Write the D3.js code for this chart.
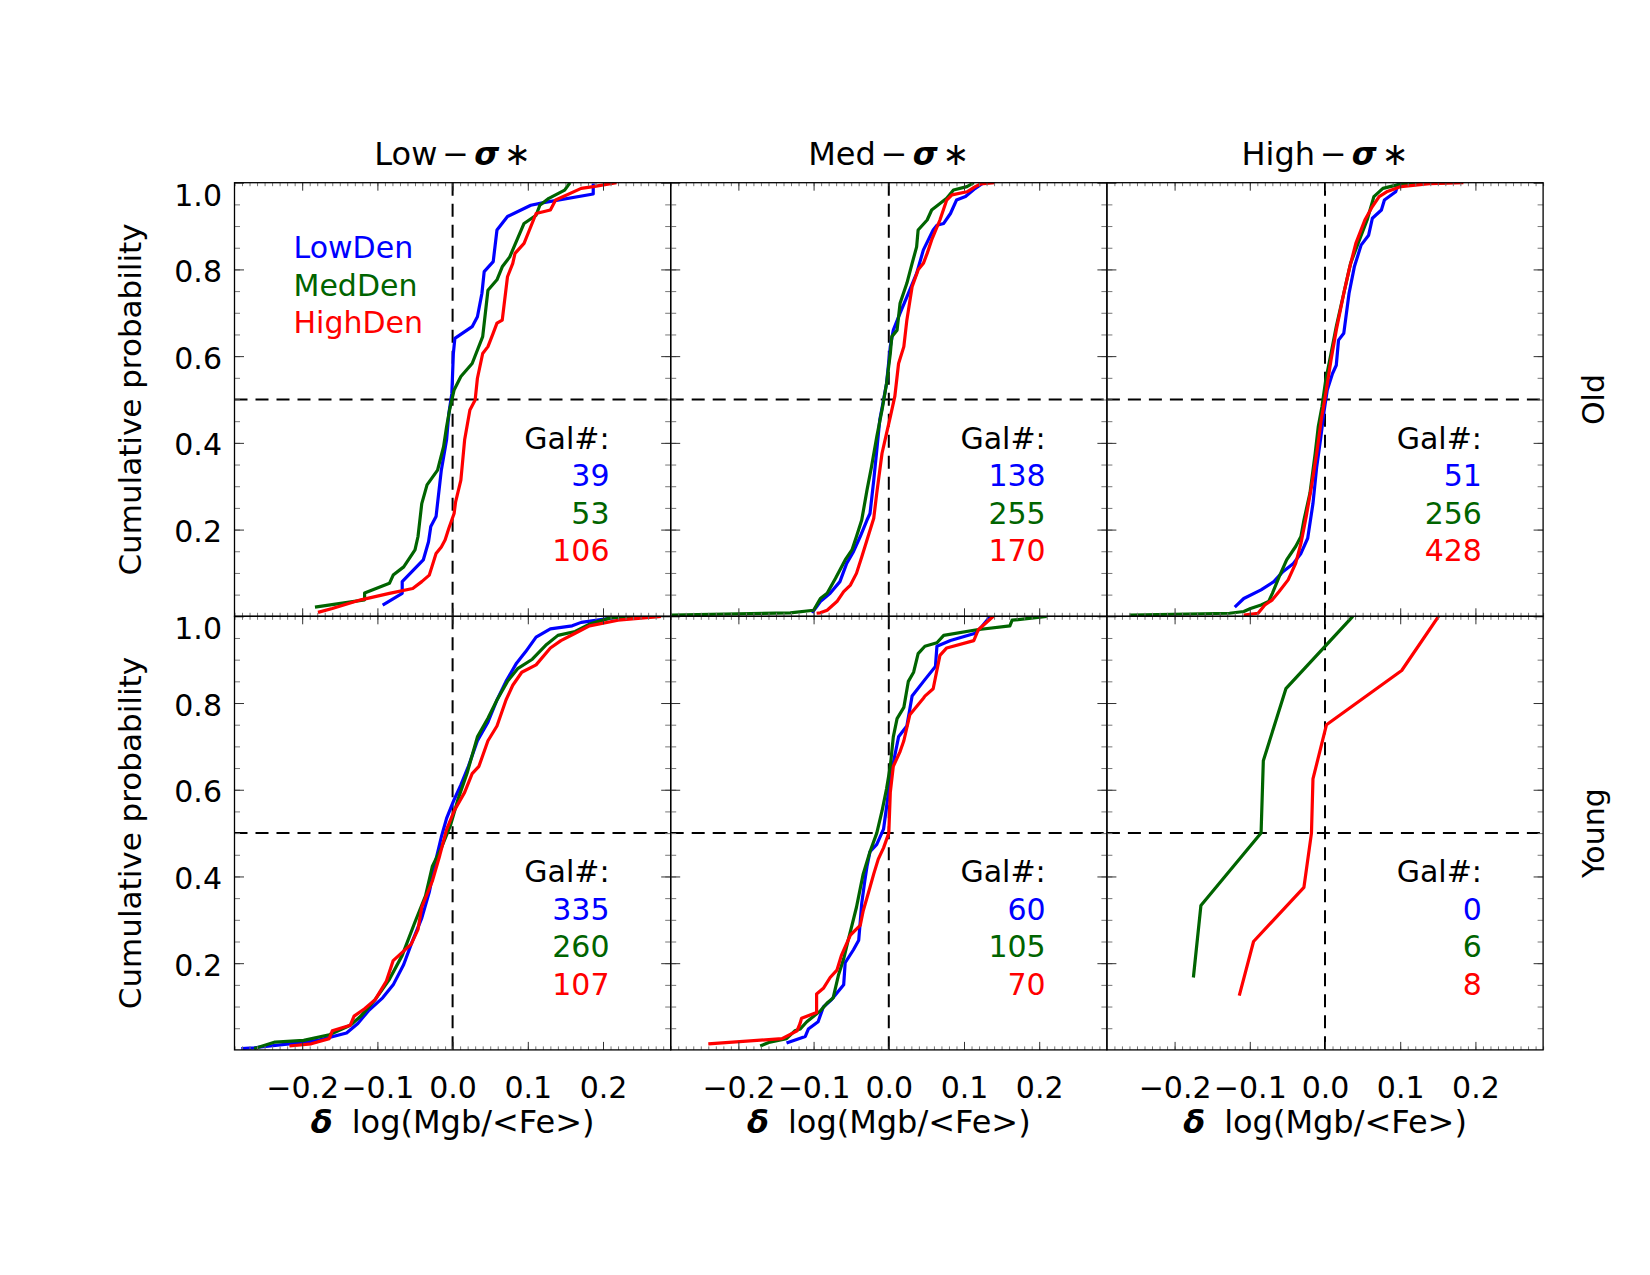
<!DOCTYPE html>
<html>
<head>
<meta charset="utf-8">
<script src="https://cdn.jsdelivr.net/npm/d3@7"></script>
<style>
  body { margin: 0; background: #fff; }
  text { font-family: "DejaVu Sans", sans-serif; }
</style>
</head>
<body>
<div id="chart"></div>
<script>
// Panel / series labels
var colNames = ["Low", "Med", "High"];
var rowNames = ["Old", "Young"];
var densNames = ["LowDen", "MedDen", "HighDen"];
var densColors = ["#0000ff", "#006400", "#ff0000"];

// Galaxy counts per panel [LowDen, MedDen, HighDen]
var galOld = [[39, 53, 106], [138, 255, 170], [51, 256, 428]];
var galYoung = [[335, 260, 107], [60, 105, 70], [0, 6, 8]];

// Tick values
var xTickVals = [-0.2, -0.1, 0.0, 0.1, 0.2];
var yTickVals = [0.2, 0.4, 0.6, 0.8, 1.0];

// Cumulative curves: [delta log(Mgb/<Fe>), cumulative probability]
var oldLowLD = [[-0.093,0.026],[-0.067,0.053],[-0.067,0.080],[-0.039,0.130],[-0.032,0.172],[-0.029,0.207],[-0.022,0.230],[-0.015,0.337],[-0.008,0.407],[-0.005,0.468],[-0.001,0.514],[0.001,0.606],[0.003,0.641],[0.026,0.668],[0.033,0.691],[0.039,0.745],[0.042,0.795],[0.054,0.818],[0.059,0.891],[0.073,0.922],[0.104,0.948],[0.121,0.954],[0.187,0.974],[0.187,0.998]];
var oldLowMD = [[-0.183,0.021],[-0.117,0.038],[-0.117,0.054],[-0.084,0.076],[-0.079,0.095],[-0.065,0.114],[-0.050,0.153],[-0.046,0.184],[-0.041,0.260],[-0.034,0.303],[-0.020,0.337],[-0.012,0.391],[-0.008,0.437],[-0.004,0.476],[0.002,0.522],[0.011,0.553],[0.026,0.583],[0.040,0.645],[0.047,0.752],[0.059,0.776],[0.066,0.806],[0.076,0.829],[0.095,0.906],[0.111,0.925],[0.116,0.948],[0.128,0.964],[0.149,0.983],[0.156,1.0]];
var oldLowHD = [[-0.179,0.009],[-0.160,0.018],[-0.122,0.038],[-0.084,0.053],[-0.053,0.064],[-0.041,0.080],[-0.031,0.095],[-0.022,0.145],[-0.015,0.160],[-0.010,0.176],[-0.005,0.203],[0.002,0.237],[0.004,0.264],[0.011,0.314],[0.016,0.407],[0.023,0.476],[0.030,0.499],[0.033,0.549],[0.040,0.606],[0.047,0.622],[0.054,0.653],[0.059,0.676],[0.066,0.683],[0.073,0.783],[0.080,0.814],[0.083,0.837],[0.095,0.860],[0.111,0.929],[0.130,0.937],[0.137,0.960],[0.171,0.987],[0.187,0.991],[0.218,1.0]];

var oldMedLD = [[-0.102,0.008],[-0.096,0.022],[-0.091,0.034],[-0.078,0.053],[-0.065,0.080],[-0.056,0.122],[-0.047,0.149],[-0.038,0.184],[-0.029,0.222],[-0.025,0.237],[-0.020,0.314],[-0.016,0.383],[-0.012,0.453],[-0.007,0.499],[-0.003,0.537],[0.002,0.622],[0.006,0.660],[0.015,0.699],[0.026,0.745],[0.037,0.791],[0.046,0.845],[0.059,0.891],[0.064,0.902],[0.073,0.906],[0.082,0.929],[0.090,0.960],[0.102,0.968],[0.115,0.987],[0.126,1.0]];
var oldMedMD = [[-0.289,0.003],[-0.131,0.008],[-0.100,0.014],[-0.091,0.041],[-0.082,0.053],[-0.071,0.087],[-0.058,0.130],[-0.049,0.153],[-0.043,0.184],[-0.036,0.222],[-0.029,0.291],[-0.023,0.345],[-0.016,0.414],[-0.009,0.476],[-0.003,0.537],[0.002,0.606],[0.004,0.645],[0.011,0.660],[0.015,0.722],[0.024,0.768],[0.031,0.814],[0.037,0.852],[0.039,0.891],[0.051,0.914],[0.057,0.937],[0.077,0.964],[0.086,0.983],[0.104,0.991],[0.113,1.0]];
var oldMedHD = [[-0.096,0.007],[-0.091,0.008],[-0.082,0.014],[-0.069,0.034],[-0.060,0.057],[-0.051,0.072],[-0.043,0.099],[-0.036,0.137],[-0.029,0.176],[-0.020,0.226],[-0.016,0.284],[-0.009,0.376],[-0.003,0.422],[0.002,0.460],[0.008,0.507],[0.013,0.583],[0.020,0.622],[0.024,0.683],[0.031,0.760],[0.039,0.799],[0.046,0.814],[0.051,0.837],[0.057,0.868],[0.068,0.914],[0.077,0.960],[0.084,0.972],[0.104,0.979],[0.115,0.991],[0.122,0.997],[0.141,1.0]];

var oldHighLD = [[-0.120,0.021],[-0.108,0.041],[-0.085,0.061],[-0.068,0.080],[-0.056,0.103],[-0.042,0.122],[-0.032,0.145],[-0.023,0.180],[-0.016,0.260],[-0.011,0.345],[-0.006,0.407],[-0.001,0.476],[0.003,0.522],[0.010,0.560],[0.015,0.579],[0.018,0.637],[0.025,0.653],[0.032,0.745],[0.039,0.806],[0.048,0.856],[0.058,0.879],[0.063,0.918],[0.075,0.937],[0.079,0.960],[0.094,0.979],[0.098,1.0]];
var oldHighMD = [[-0.260,0.003],[-0.127,0.007],[-0.108,0.011],[-0.099,0.018],[-0.085,0.026],[-0.075,0.034],[-0.070,0.053],[-0.061,0.091],[-0.051,0.130],[-0.039,0.161],[-0.032,0.184],[-0.028,0.222],[-0.020,0.284],[-0.013,0.376],[-0.009,0.437],[-0.004,0.484],[0.001,0.545],[0.008,0.606],[0.015,0.668],[0.025,0.745],[0.034,0.814],[0.044,0.860],[0.056,0.914],[0.065,0.968],[0.077,0.987],[0.096,0.995],[0.115,0.998],[0.162,1.0]];
var oldHighHD = [[-0.108,0.003],[-0.089,0.007],[-0.080,0.026],[-0.070,0.038],[-0.061,0.057],[-0.049,0.084],[-0.039,0.122],[-0.032,0.168],[-0.025,0.230],[-0.018,0.299],[-0.011,0.376],[-0.005,0.453],[0.001,0.514],[0.008,0.591],[0.015,0.660],[0.025,0.745],[0.032,0.799],[0.041,0.860],[0.053,0.914],[0.063,0.945],[0.072,0.968],[0.082,0.979],[0.101,0.991],[0.139,0.998],[0.184,1.0]];

var youngLowLD = [[-0.281,0.003],[-0.264,0.005],[-0.217,0.014],[-0.179,0.022],[-0.141,0.039],[-0.126,0.061],[-0.112,0.090],[-0.093,0.120],[-0.079,0.150],[-0.065,0.197],[-0.055,0.244],[-0.041,0.304],[-0.031,0.364],[-0.022,0.440],[-0.015,0.491],[-0.008,0.534],[0.002,0.577],[0.011,0.611],[0.021,0.654],[0.033,0.713],[0.047,0.756],[0.059,0.807],[0.071,0.850],[0.085,0.892],[0.097,0.918],[0.111,0.952],[0.130,0.971],[0.159,0.978],[0.171,0.986],[0.216,0.997],[0.244,1.0]];
var youngLowMD = [[-0.264,0.003],[-0.236,0.018],[-0.198,0.022],[-0.164,0.035],[-0.136,0.057],[-0.122,0.078],[-0.103,0.116],[-0.084,0.163],[-0.067,0.218],[-0.050,0.295],[-0.036,0.355],[-0.027,0.423],[-0.015,0.466],[-0.003,0.517],[0.007,0.577],[0.019,0.637],[0.033,0.722],[0.047,0.765],[0.059,0.807],[0.073,0.850],[0.087,0.880],[0.106,0.901],[0.125,0.935],[0.140,0.956],[0.163,0.965],[0.182,0.982],[0.211,0.997],[0.277,1.0]];
var youngLowHD = [[-0.217,0.009],[-0.188,0.014],[-0.164,0.026],[-0.160,0.044],[-0.136,0.057],[-0.131,0.078],[-0.117,0.095],[-0.103,0.116],[-0.088,0.159],[-0.079,0.206],[-0.055,0.244],[-0.046,0.278],[-0.041,0.329],[-0.027,0.389],[-0.017,0.449],[-0.008,0.508],[0.002,0.551],[0.016,0.594],[0.026,0.637],[0.035,0.654],[0.047,0.713],[0.059,0.747],[0.071,0.807],[0.080,0.841],[0.092,0.871],[0.111,0.888],[0.130,0.927],[0.144,0.944],[0.163,0.961],[0.182,0.978],[0.220,0.991],[0.277,1.0]];

var youngMedLD = [[-0.136,0.016],[-0.111,0.031],[-0.107,0.048],[-0.094,0.065],[-0.087,0.099],[-0.076,0.116],[-0.060,0.150],[-0.058,0.201],[-0.047,0.231],[-0.040,0.253],[-0.038,0.295],[-0.036,0.338],[-0.032,0.389],[-0.029,0.423],[-0.025,0.457],[-0.016,0.474],[-0.007,0.509],[-0.003,0.560],[0.002,0.628],[0.008,0.679],[0.013,0.722],[0.024,0.747],[0.031,0.816],[0.048,0.854],[0.062,0.884],[0.064,0.931],[0.082,0.944],[0.115,0.961],[0.122,0.973],[0.135,1.0]];
var youngMedMD = [[-0.171,0.009],[-0.158,0.018],[-0.136,0.026],[-0.125,0.044],[-0.118,0.048],[-0.109,0.065],[-0.091,0.090],[-0.082,0.108],[-0.074,0.120],[-0.067,0.172],[-0.060,0.210],[-0.054,0.253],[-0.049,0.287],[-0.043,0.329],[-0.038,0.372],[-0.034,0.406],[-0.025,0.457],[-0.016,0.500],[-0.009,0.551],[-0.003,0.602],[0.002,0.654],[0.006,0.722],[0.011,0.764],[0.020,0.790],[0.026,0.850],[0.033,0.871],[0.039,0.914],[0.048,0.931],[0.064,0.939],[0.073,0.956],[0.117,0.969],[0.161,0.978],[0.164,0.991],[0.210,1.0]];
var youngMedHD = [[-0.240,0.014],[-0.142,0.026],[-0.122,0.044],[-0.118,0.061],[-0.116,0.073],[-0.096,0.086],[-0.096,0.129],[-0.087,0.142],[-0.078,0.167],[-0.069,0.184],[-0.063,0.218],[-0.051,0.265],[-0.038,0.287],[-0.034,0.321],[-0.027,0.363],[-0.020,0.406],[-0.014,0.440],[-0.007,0.466],[0.000,0.500],[0.002,0.594],[0.006,0.654],[0.015,0.688],[0.020,0.713],[0.028,0.773],[0.046,0.811],[0.048,0.816],[0.059,0.833],[0.068,0.910],[0.077,0.927],[0.113,0.944],[0.119,0.969],[0.139,1.0]];

var youngHighLD = [];
var youngHighMD = [[-0.175,0.167],[-0.165,0.333],[-0.085,0.500],[-0.082,0.667],[-0.052,0.833],[0.037,1.0]];
var youngHighHD = [[-0.114,0.125],[-0.095,0.250],[-0.028,0.375],[-0.018,0.500],[-0.016,0.625],[0.002,0.750],[0.102,0.875],[0.151,1.0]];

var curveTable = [
    [[oldLowLD, oldLowMD, oldLowHD], [oldMedLD, oldMedMD, oldMedHD], [oldHighLD, oldHighMD, oldHighHD]],
    [[youngLowLD, youngLowMD, youngLowHD], [youngMedLD, youngMedMD, youngMedHD], [youngHighLD, youngHighMD, youngHighHD]]
];

// Layout
var W = 1650, H = 1275;
var plotLeft = 234.5, plotTop = 182.7, panelW = 436.2, panelH = 433.6;
var fontSize = 30;

var svg = d3.select("#chart").append("svg")
    .attr("width", W)
    .attr("height", H);

var x = d3.scaleLinear().domain([-0.29, 0.29]).range([0, panelW]);
var y = d3.scaleLinear().domain([0, 1]).range([panelH, 0]);

var xMinor = d3.range(-29, 30).map(function (i) { return i / 100; });
var yMinor = d3.range(1, 20).map(function (i) { return i / 20; });

var line = d3.line()
    .x(function (d) { return x(d[0]); })
    .y(function (d) { return y(d[1]); });

// helper to add a tick-only axis
function addAxis(g, axis, tx, ty, color) {
    var a = g.append("g")
        .attr("transform", "translate(" + tx + "," + ty + ")")
        .call(axis);
    a.select(".domain").remove();
    a.attr("font-size", fontSize).attr("font-family", "DejaVu Sans, sans-serif");
    a.selectAll("line").attr("stroke", color).attr("stroke-width", 1);
    a.selectAll("text").attr("fill", "#000");
    return a;
}

rowNames.forEach(function (row, r) {
    colNames.forEach(function (col, c) {
        var px = plotLeft + c * panelW, py = plotTop + r * panelH;
        var g = svg.append("g").attr("transform", "translate(" + px + "," + py + ")");
        var clipId = "clip-" + r + "-" + c;

        g.append("clipPath").attr("id", clipId)
            .append("rect").attr("width", panelW).attr("height", panelH);

        // dashed reference lines at 0 and 0.5
        g.append("line")
            .attr("x1", x(0)).attr("x2", x(0))
            .attr("y1", 0).attr("y2", panelH)
            .attr("stroke", "#000").attr("stroke-width", 2)
            .attr("stroke-dasharray", "13,8");
        g.append("line")
            .attr("x1", 0).attr("x2", panelW)
            .attr("y1", y(0.5)).attr("y2", y(0.5))
            .attr("stroke", "#000").attr("stroke-width", 2)
            .attr("stroke-dasharray", "13,8");

        // cumulative curves
        g.append("g").attr("clip-path", "url(#" + clipId + ")")
            .selectAll("path")
            .data(curveTable[r][c])
            .enter().append("path")
            .attr("d", function (d) { return d.length ? line(d) : null; })
            .attr("fill", "none")
            .attr("stroke", function (d, i) { return densColors[i]; })
            .attr("stroke-width", 3.2)
            .attr("stroke-linejoin", "round");

        // minor ticks
        addAxis(g, d3.axisBottom(x).tickValues(xMinor).tickSize(-3.5).tickFormat(""), 0, panelH, "#777");
        addAxis(g, d3.axisTop(x).tickValues(xMinor).tickSize(-3.5).tickFormat(""), 0, 0, "#777");
        addAxis(g, d3.axisLeft(y).tickValues(yMinor).tickSize(-5.5).tickFormat(""), 0, 0, "#777");
        addAxis(g, d3.axisRight(y).tickValues(yMinor).tickSize(-5.5).tickFormat(""), panelW, 0, "#777");

        // major ticks (with labels on the outer panels)
        addAxis(g, d3.axisBottom(x).tickValues(xTickVals).tickSize(-8).tickPadding(26.7)
            .tickFormat(r === 1 ? d3.format(".1f") : ""), 0, panelH, "#333");
        addAxis(g, d3.axisTop(x).tickValues(xTickVals).tickSize(-8).tickFormat(""), 0, 0, "#333");
        var yl = addAxis(g, d3.axisLeft(y).tickValues(yTickVals).tickSize(-9.5).tickPadding(12.5)
            .tickFormat(c === 0 ? d3.format(".1f") : ""), 0, 0, "#333");
        yl.selectAll("text").attr("dy", function (d) { return d === 1 ? "0.75em" : "0.4em"; });
        addAxis(g, d3.axisRight(y).tickValues(yTickVals).tickSize(-9.5).tickFormat(""), panelW, 0, "#333");

        // frame
        g.append("rect")
            .attr("width", panelW).attr("height", panelH)
            .attr("fill", "none").attr("stroke", "#000").attr("stroke-width", 1.3);

        // galaxy counts
        var counts = (r === 0 ? galOld : galYoung)[c];
        var gal = g.append("g").attr("font-size", fontSize).attr("text-anchor", "end");
        gal.append("text").attr("x", 375).attr("y", 266).attr("fill", "#000").text("Gal#:");
        gal.selectAll(".count")
            .data(counts)
            .enter().append("text")
            .attr("class", "count")
            .attr("x", 375)
            .attr("y", function (d, i) { return 303.5 + i * 37.5; })
            .attr("fill", function (d, i) { return densColors[i]; })
            .text(function (d) { return d; });

        // legend in the first panel
        if (r === 0 && c === 0) {
            g.selectAll(".legend")
                .data(densNames)
                .enter().append("text")
                .attr("class", "legend")
                .attr("x", 59)
                .attr("y", function (d, i) { return 75.3 + i * 37.7; })
                .attr("font-size", fontSize)
                .attr("fill", function (d, i) { return densColors[i]; })
                .text(function (d) { return d; });
        }

        // column titles
        if (r === 0) {
            var t = svg.append("text")
                .attr("x", px + panelW / 2)
                .attr("y", 165)
                .attr("text-anchor", "middle")
                .attr("font-size", 32);
            t.append("tspan").text(col);
            t.append("tspan").attr("dx", 5).text("\u2212");
            t.append("tspan").attr("dx", 5).attr("font-weight", "bold").attr("font-style", "italic").text("\u03c3");
            t.append("tspan").attr("dx", 5).text("\u2217");
        }

        // x-axis titles
        if (r === 1) {
            var xt = svg.append("text")
                .attr("x", px + panelW / 2)
                .attr("y", 1133)
                .attr("text-anchor", "middle")
                .attr("font-size", 32);
            xt.append("tspan").attr("font-weight", "bold").attr("font-style", "italic").text("\u03b4");
            xt.append("tspan").attr("dx", 19).text("log(Mgb/<Fe>)");
        }
    });

    var mid = plotTop + r * panelH + panelH / 2;
    // y-axis title
    svg.append("text")
        .attr("transform", "translate(141," + mid + ") rotate(-90)")
        .attr("text-anchor", "middle")
        .attr("font-size", 31)
        .text("Cumulative probability");
    // row label
    svg.append("text")
        .attr("transform", "translate(1604," + mid + ") rotate(-90)")
        .attr("text-anchor", "middle")
        .attr("font-size", fontSize)
        .text(row);
});
</script>
</body>
</html>
